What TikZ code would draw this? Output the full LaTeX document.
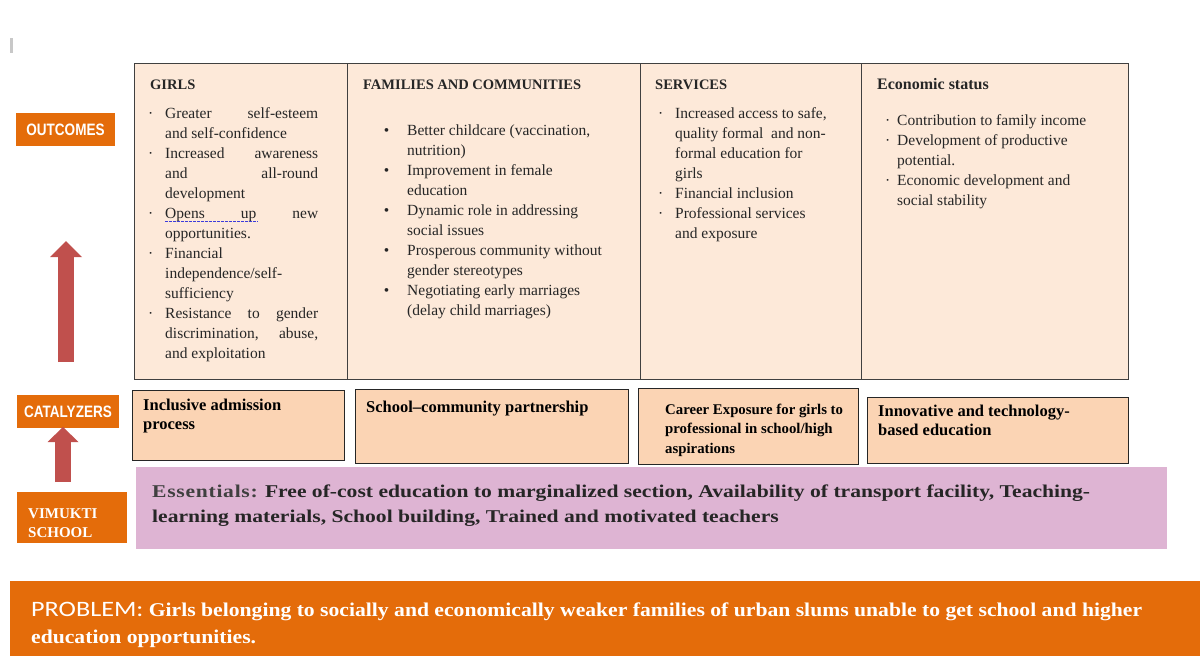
\documentclass[tikz,border=0pt]{standalone}
\usepackage{fontspec}
\setmainfont{Liberation Serif}
\newfontfamily\narrowsans[FakeStretch=0.82]{Liberation Sans}
\newfontfamily\probfont[FakeStretch=1.19]{Carlito}
\newfontfamily\probserif[FakeStretch=1.11]{Liberation Serif}
\newfontfamily\wideserif[FakeStretch=1.2]{Liberation Serif}
\newfontfamily\essfont[FakeStretch=1.2,LetterSpace=4]{Liberation Serif}
\usetikzlibrary{arrows.meta,positioning}

\definecolor{outcomefill}{HTML}{FDE9D9}
\definecolor{catfill}{HTML}{FBD4B4}
\definecolor{essfill}{HTML}{DEB4D3}
\definecolor{labelorange}{HTML}{E46C0A}
\definecolor{arrowred}{HTML}{C0504D}
\definecolor{gridline}{HTML}{404040}
\definecolor{catline}{HTML}{262626}
\definecolor{bodytext}{HTML}{262626}
\definecolor{essgray}{HTML}{404040}
\definecolor{spellblue}{HTML}{3C3CDC}
\definecolor{markgray}{HTML}{C8C8C8}

\newcommand{\bstrut}{\rule{0pt}{12pt}}
\newcommand{\cstrut}{\rule{0pt}{13pt}}
\newcommand{\dotbul}[1]{\llap{\textperiodcentered\hspace{#1}}}
\newcommand{\roundbul}{\llap{\textbullet\hspace{18pt}}}

\begin{document}
\begin{tikzpicture}[x=1pt, y=-1pt,
    cellbox/.style={draw=gridline, line width=1.3pt, fill=outcomefill, anchor=north west, inner sep=0pt},
    catbox/.style={draw=catline, line width=1.2pt, fill=catfill, anchor=north west, inner sep=0pt},
    tagbox/.style={fill=labelorange, text=white, inner sep=0pt, font=\narrowsans\bfseries\fontsize{16.5}{18}\selectfont},
    tagtxt/.style={anchor=north west, inner sep=0pt, align=left, text=white, font=\bfseries\fontsize{15}{19}\selectfont},
    headtxt/.style={anchor=base west, inner sep=0pt, text=bodytext, font=\bfseries\fontsize{14.5}{17}\selectfont},
    bodytxt/.style={anchor=north west, inner sep=0pt, align=left, text=bodytext, font=\fontsize{15.5}{20}\selectfont},
    cattxt/.style={anchor=north west, inner sep=0pt, align=left, text=black, font=\bfseries\fontsize{16.5}{19}\selectfont},
    blockarrow/.style={draw=arrowred, line width=16pt, -{Triangle[width=32pt,length=16pt,line width=0pt]}},
    spellline/.style={draw=spellblue, line width=1.5pt, dash pattern=on 2.5pt off 1.5pt}]
  \useasboundingbox (0,0) rectangle (1200,656);

  % cursor mark
  \fill[markgray] (10,38) rectangle (13,53);

  % outcomes table
  \node[cellbox, minimum width=213, minimum height=316] (girlscell) at (134,63) {};
  \node[cellbox, minimum width=293, minimum height=316] (famcell) at (347,63) {};
  \node[cellbox, minimum width=221, minimum height=316] (servcell) at (640,63) {};
  \node[cellbox, minimum width=267, minimum height=316] (econcell) at (861,63) {};

  \node[headtxt] (girlshd) at (150,89) {GIRLS};
  \node[headtxt] (famhd) at (363,89) {FAMILIES AND COMMUNITIES};
  \node[headtxt] (servhd) at (655,89) {SERVICES};
  \node[headtxt, font=\bfseries\fontsize{16}{17}\selectfont] (econhd) at (877,89) {Economic status};

  \node[bodytxt] (girlstxt) at (165,106) {\bstrut\dotbul{12pt}\makebox[153pt][s]{Greater self-esteem}\\
    and self-confidence\\
    \dotbul{12pt}\makebox[153pt][s]{Increased awareness}\\
    \makebox[153pt][s]{and all-round}\\
    development\\
    \dotbul{12pt}\makebox[153pt][s]{Opens up new}\\
    opportunities.\\
    \dotbul{12pt}Financial\\
    independence/self-\\
    sufficiency\\
    \dotbul{12pt}\makebox[153pt][s]{Resistance to gender}\\
    \makebox[153pt][s]{discrimination, abuse,}\\
    and exploitation};
  \draw[spellline] (165,221.5) -- (258,221.5);

  \node[bodytxt] (famtxt) at (407,123) {\bstrut\roundbul Better childcare (vaccination,\\
    nutrition)\\
    \roundbul Improvement in female\\
    education\\
    \roundbul Dynamic role in addressing\\
    social issues\\
    \roundbul Prosperous community without\\
    gender stereotypes\\
    \roundbul Negotiating early marriages\\
    (delay child marriages)};

  \node[bodytxt] (servtxt) at (675,106) {\bstrut\dotbul{12pt}Increased access to safe,\\
    quality formal\ \ and non-\\
    formal education for\\
    girls\\
    \dotbul{12pt}Financial inclusion\\
    \dotbul{12pt}Professional services\\
    and exposure};

  \node[bodytxt] (econtxt) at (897,113) {\bstrut\dotbul{7pt}Contribution to family income\\
    \dotbul{7pt}Development of productive\\
    potential.\\
    \dotbul{7pt}Economic development and\\
    social stability};

  % side tags and arrows
  \node[tagbox, minimum width=99, minimum height=33] (outtag) at (65.5,129.5) {OUTCOMES};
  \node[tagbox, minimum width=102, minimum height=33] (cattag) at (68,411.5) {CATALYZERS};
  \node[tagbox, minimum width=110, minimum height=51, anchor=north west] (schooltag) at (17,492) {};
  \node[tagtxt] (schooltxt) at ([shift={(11,14)}]schooltag.north west) {\bstrut VIMUKTI\\SCHOOL};

  \coordinate (bigtail) at (66,362);
  \coordinate (bigtip) at (66,241);
  \draw[blockarrow] (bigtail) -- (bigtip);
  \coordinate (smalltail) at (63,482);
  \coordinate (smalltip) at (63,427);
  \draw[blockarrow, -{Triangle[width=31pt,length=15pt,line width=0pt]}] (smalltail) -- (smalltip);

  % catalyzers
  \node[catbox, minimum width=212, minimum height=70] (cat1) at (132,390) {};
  \node[cattxt] (cat1txt) at ([shift={(11,7)}]cat1.north west) {\cstrut Inclusive admission\\process};
  \node[catbox, minimum width=273, minimum height=74] (cat2) at (355,389) {};
  \node[cattxt] (cat2txt) at ([shift={(11,10)}]cat2.north west) {\cstrut School–community partnership};
  \node[catbox, minimum width=220, minimum height=76] (cat3) at (638,388) {};
  \node[cattxt, font=\bfseries\fontsize{14.8}{19.5}\selectfont] (cat3txt) at ([shift={(27,13)}]cat3.north west) {\cstrut Career Exposure for girls to\\professional in school/high\\aspirations};
  \node[catbox, minimum width=261, minimum height=66] (cat4) at (867,397) {};
  \node[cattxt] (cat4txt) at ([shift={(11,6)}]cat4.north west) {\cstrut Innovative and technology-\\based education};

  % essentials
  \node[fill=essfill, minimum width=1031, minimum height=82, anchor=north west, inner sep=0pt] (essbox) at (136,467) {};
  \node[cattxt, font=\wideserif\bfseries\fontsize{18}{25.5}\selectfont, text=bodytext] (esstxt) at ([shift={(16,16)}]essbox.north west) {\rule{0pt}{14pt}{\color{essgray}\essfont Essentials:} Free of-cost education to marginalized section, Availability of transport facility, Teaching-\\
    learning materials, School building, Trained and motivated teachers};

  % problem
  \node[fill=labelorange, minimum width=1190, minimum height=75, anchor=north west, inner sep=0pt] (probbar) at (10,581) {};
  \node[cattxt, font=\probserif\bfseries\fontsize{19.5}{27}\selectfont, text=white] (probtxt) at ([shift={(21,19)}]probbar.north west) {\rule{0pt}{16pt}{\probfont\mdseries\fontsize{22}{27}\selectfont PROBLEM:} Girls belonging to socially and economically weaker families of urban slums unable to get school and higher\\
    education opportunities.};
\end{tikzpicture}
\end{document}
